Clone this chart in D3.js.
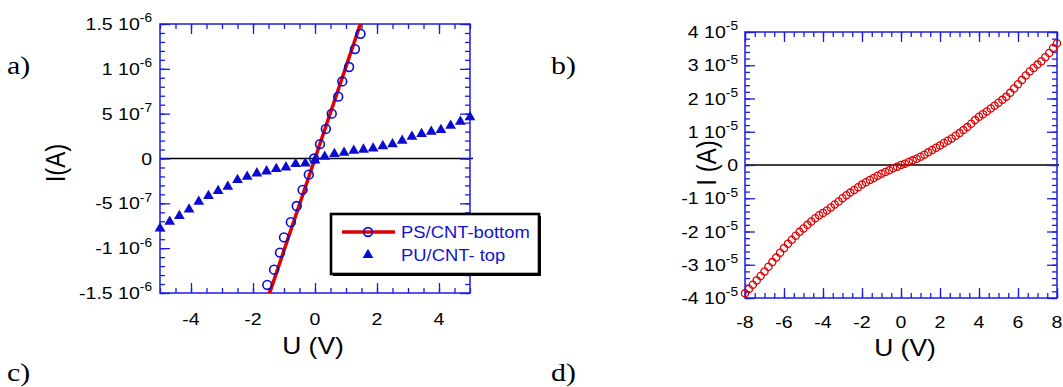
<!DOCTYPE html>
<html><head><meta charset="utf-8">
<script src="https://cdn.jsdelivr.net/npm/d3@7"></script>
<style>
html,body{margin:0;padding:0;background:#fff;}
</style></head>
<body><svg id="c" width="1063" height="387"></svg>
<script>
// ---------- DATA ----------
// Panel a) : PS/CNT-bottom (circles) and PU/CNT-top (triangles)
const psX = [-1.54,-1.32,-1.13,-1.0,-0.78,-0.59,-0.40,-0.20,-0.03,0.16,0.35,0.54,0.75,0.88,1.10,1.29,1.47];
const psI = [-1.41e-6,-1.24e-6,-1.05e-6,-0.88e-6,-0.71e-6,-0.53e-6,-0.35e-6,-0.18e-6,0.0,0.16e-6,0.33e-6,0.50e-6,0.69e-6,0.86e-6,1.02e-6,1.22e-6,1.39e-6];
const psFitX = [-1.6, 1.6];
const psFitI = [-1.64e-6, 1.64e-6];
const puX = [-5,-4.6875,-4.375,-4.0625,-3.75,-3.4375,-3.125,-2.8125,-2.5,-2.1875,-1.875,-1.5625,-1.25,-0.9375,-0.625,-0.3125,0,
             0.3125,0.625,0.9375,1.25,1.5625,1.875,2.1875,2.5,2.8125,3.125,3.4375,3.75,4.0625,4.375,4.6875,5];
const puI = [-0.78e-6,-0.705e-6,-0.64e-6,-0.567e-6,-0.482e-6,-0.418e-6,-0.362e-6,-0.314e-6,-0.24e-6,-0.203e-6,-0.165e-6,-0.143e-6,-0.117e-6,-0.098e-6,-0.061e-6,-0.054e-6,-0.02e-6,
             0.02e-6,0.05e-6,0.065e-6,0.087e-6,0.10e-6,0.113e-6,0.139e-6,0.16e-6,0.199e-6,0.243e-6,0.273e-6,0.30e-6,0.318e-6,0.366e-6,0.41e-6,0.46e-6];
// Panel b)
const bX = [-8,-7.8,-7.6,-7.4,-7.2,-7,-6.8,-6.6,-6.4,-6.2,-6,-5.8,-5.6,-5.4,-5.2,-5,-4.8,-4.6,-4.4,-4.2,-4,-3.8,-3.6,-3.4,-3.2,-3,-2.8,-2.6,-2.4,-2.2,-2,-1.8,-1.6,-1.4,-1.2,-1,-0.8,-0.6,-0.4,-0.2,
            0,0.2,0.4,0.6,0.8,1,1.2,1.4,1.6,1.8,2,2.2,2.4,2.6,2.8,3,3.2,3.4,3.6,3.8,4,4.2,4.4,4.6,4.8,5,5.2,5.4,5.6,5.8,6,6.2,6.4,6.6,6.8,7,7.2,7.4,7.6,7.8,8];
const bI = [-3.86,-3.73,-3.60,-3.47,-3.34,-3.20,-3.06,-2.92,-2.78,-2.64,-2.50,-2.37,-2.25,-2.13,-2.01,-1.91,-1.80,-1.70,-1.60,-1.51,-1.44,-1.37,-1.28,-1.19,-1.10,-1.00,-0.91,-0.83,-0.75,-0.67,-0.59,-0.52,-0.45,-0.39,-0.32,-0.26,-0.21,-0.16,-0.10,-0.05,
            0.00,0.04,0.09,0.14,0.19,0.25,0.31,0.38,0.45,0.52,0.59,0.66,0.73,0.80,0.88,0.96,1.05,1.14,1.24,1.35,1.45,1.53,1.61,1.70,1.78,1.87,1.96,2.05,2.17,2.30,2.43,2.56,2.69,2.81,2.92,3.02,3.12,3.24,3.37,3.52,3.66].map(v=>v*1e-5);

// Tick values and labels
const aXTicks = [-4,-2,0,2,4];
const aXLabels = ["-4","-2","0","2","4"];
const aYTicks = [1.5e-6,1e-6,5e-7,0,-5e-7,-1e-6,-1.5e-6];
const aYMant = ["1.5 10","1 10","5 10","0","-5 10","-1 10","-1.5 10"];
const aYExp  = ["-6","-6","-7","","-7","-6","-6"];
const bXTicks = [-8,-6,-4,-2,0,2,4,6,8];
const bXLabels = ["-8","-6","-4","-2","0","2","4","6","8"];
const bYTicks = [4e-5,3e-5,2e-5,1e-5,0,-1e-5,-2e-5,-3e-5,-4e-5];
const bYMant = ["4 10","3 10","2 10","1 10","0","-1 10","-2 10","-3 10","-4 10"];
const bYExp  = ["-5","-5","-5","-5","","-5","-5","-5","-5"];
const legendLabels = ["PS/CNT-bottom","PU/CNT- top"];
const panelLabels = ["a)","b)","c)","d)"];

// ---------- DRAW ----------
const svg = d3.select("#c");
const BLUE = "#1c1ce0", TBLUE = "#0a0ad0", RED = "#e00000";
const SX = 1.15;   // horizontal stretch of the original figure's lettering
const SANS = "'Liberation Sans',Arial,Helvetica,sans-serif";
const SERIF = "'Liberation Serif','Times New Roman',serif";

function T(g, x, y, str, fs, anchor, rot, fam, fill){
  return g.append("text")
    .attr("transform", `translate(${x},${y}) scale(${SX},1)` + (rot ? ` rotate(${rot})` : ""))
    .attr("text-anchor", anchor || "start")
    .style("font-family", fam || SANS).style("font-size", fs + "px")
    .attr("fill", fill || "#000").text(str);
}

function frame(g, x, y, xMajor, xMinorStep, yMajor, yMinorStep){
  const [x0,x1] = x.range(), [y1,y0] = y.range();
  const xd = x.domain(), yd = y.domain();
  const xMinor = d3.range(xd[0], xd[1]+1e-9, xMinorStep);
  const yMinor = d3.range(0, yd[1]*1.0000001, yMinorStep).concat(d3.range(-yMinorStep, yd[0]*1.0000001, -yMinorStep));
  const ax = (gen, tr, vals, size) => g.append("g").attr("transform", tr)
     .call(gen.tickValues(vals).tickSize(size).tickFormat("").tickSizeOuter(0))
     .call(s=>{s.select(".domain").remove(); s.selectAll("line").attr("stroke",BLUE).attr("stroke-width",1.3);});
  ax(d3.axisBottom(x), `translate(0,${y1})`, xMinor, -5);
  ax(d3.axisBottom(x), `translate(0,${y1})`, xMajor, -10);
  ax(d3.axisTop(x), `translate(0,${y0})`, xMinor, -5);
  ax(d3.axisTop(x), `translate(0,${y0})`, xMajor, -10);
  ax(d3.axisLeft(y), `translate(${x0},0)`, yMinor, -5);
  ax(d3.axisLeft(y), `translate(${x0},0)`, yMajor, -10);
  ax(d3.axisRight(y), `translate(${x1},0)`, yMinor, -5);
  ax(d3.axisRight(y), `translate(${x1},0)`, yMajor, -10);
  g.append("rect").attr("x",x0).attr("y",y0).attr("width",x1-x0).attr("height",y1-y0)
    .attr("fill","none").attr("stroke",BLUE).attr("stroke-width",1.5);
}
function yLabels(g, y, xEnd, ticks, mant, exp, fs){
  ticks.forEach((t,i)=>{
    const tx = T(g, xEnd, y(t)+fs*0.36, "", fs, "end");
    tx.append("tspan").text(mant[i]);
    if(exp[i]) tx.append("tspan").attr("dy",-fs*0.45).style("font-size",(fs*0.7)+"px").text(exp[i]);
  });
}
function xLabels(g, x, yb, ticks, labels, fs){
  ticks.forEach((t,i)=>T(g, x(t), yb, labels[i], fs, "middle"));
}

// Panel a
const ga = svg.append("g");
const xa = d3.scaleLinear().domain([-5,5]).range([160,470]);
const ya = d3.scaleLinear().domain([-1.5e-6,1.5e-6]).range([293,24]);
ga.append("defs").append("clipPath").attr("id","clipA").append("rect")
  .attr("x",160).attr("y",24).attr("width",310).attr("height",269);
ga.append("line").attr("x1",xa(-5)).attr("x2",xa(5)+3).attr("y1",ya(0)).attr("y2",ya(0))
  .attr("stroke","#000").attr("stroke-width",1.5);
frame(ga, xa, ya, aXTicks, 0.5, aYTicks, 1e-7);
const line = d3.line().x(d=>xa(d[0])).y(d=>ya(d[1]));
ga.append("path").attr("clip-path","url(#clipA)").datum(psFitX.map((v,i)=>[v,psFitI[i]]))
  .attr("d",line).attr("fill","none").attr("stroke",RED).attr("stroke-width",3.5);
const tri = d3.symbol().type(d3.symbolTriangle).size(50);
ga.selectAll(".tri").data(puX.map((v,i)=>[v,puI[i]])).join("path")
  .attr("transform",d=>`translate(${xa(d[0])},${ya(d[1])})`).attr("d",tri).attr("fill",TBLUE);
ga.selectAll(".ps").data(psX.map((v,i)=>[v,psI[i]])).join("circle")
  .attr("cx",d=>xa(d[0])).attr("cy",d=>ya(d[1])).attr("r",4.4)
  .attr("fill","none").attr("stroke",TBLUE).attr("stroke-width",1.6);
yLabels(ga, ya, 152, aYTicks, aYMant, aYExp, 17);
xLabels(ga, xa, 325, aXTicks, aXLabels, 17);
T(ga, 65, 163, "I(A)", 24, "middle", -90);
T(ga, 313, 354, "U (V)", 23, "middle");

// Legend
const lg = ga.append("g");
lg.append("rect").attr("x",333).attr("y",216).attr("width",208).attr("height",60).attr("fill","#000");
lg.append("rect").attr("x",331).attr("y",214).attr("width",208).attr("height",60)
  .attr("fill","#fff").attr("stroke","#000").attr("stroke-width",2.6);
lg.append("line").attr("x1",342).attr("x2",395).attr("y1",232).attr("y2",232).attr("stroke",RED).attr("stroke-width",3.5);
lg.append("circle").attr("cx",368).attr("cy",232).attr("r",4.4).attr("fill","none").attr("stroke",TBLUE).attr("stroke-width",1.6);
lg.append("path").attr("transform","translate(368,255)").attr("d",tri).attr("fill",TBLUE);
T(lg, 401, 238, legendLabels[0], 16, "start", 0, SANS, "#1414d0");
T(lg, 401, 261, legendLabels[1], 16, "start", 0, SANS, "#1414d0");

// Panel b
const gb = svg.append("g");
const xb = d3.scaleLinear().domain([-8,8]).range([745,1057]);
const yb = d3.scaleLinear().domain([-4e-5,4e-5]).range([298,32]);
gb.append("line").attr("x1",xb(-8)).attr("x2",xb(8)+2).attr("y1",yb(0)).attr("y2",yb(0))
  .attr("stroke","#000").attr("stroke-width",1.5);
frame(gb, xb, yb, bXTicks, 0.5, bYTicks, 2e-6);
gb.selectAll(".bc").data(bX.map((v,i)=>[v,bI[i]])).join("circle")
  .attr("cx",d=>xb(d[0])).attr("cy",d=>yb(d[1])).attr("r",3.6)
  .attr("fill","none").attr("stroke",RED).attr("stroke-width",1.3);
yLabels(gb, yb, 738, bYTicks, bYMant, bYExp, 17);
xLabels(gb, xb, 328, bXTicks, bXLabels, 17);
T(gb, 716, 163, "I (A)", 24, "middle", -90);
T(gb, 905, 356, "U (V)", 23, "middle");

// Panel labels
const pl = [[7,74],[551,74],[7,381],[551,381]];
panelLabels.forEach((t,i)=>T(svg, pl[i][0], pl[i][1], t, 26, "start", 0, SERIF));
</script></body></html>
